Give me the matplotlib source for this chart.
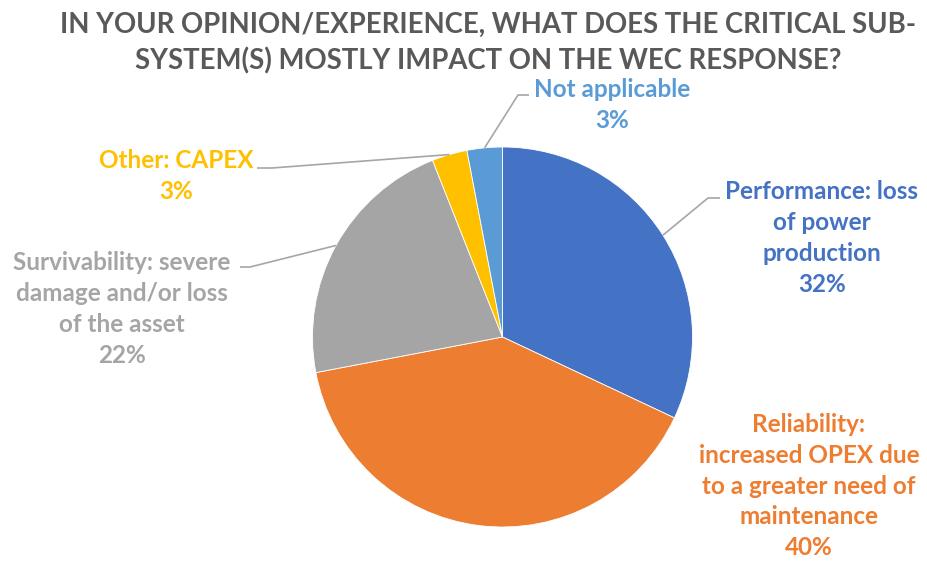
import numpy as np
import matplotlib
matplotlib.use("Agg")
import matplotlib.pyplot as plt

### data
labels = ["Performance: loss\nof power\nproduction",
          "Reliability:\nincreased OPEX due\nto a greater need of\nmaintenance",
          "Survivability: severe\ndamage and/or loss\nof the asset",
          "Other: CAPEX",
          "Not applicable"]
shares = [32, 40, 22, 3, 3]
colors = ["#4472C4", "#ED7D31", "#A5A5A5", "#FFC000", "#5B9BD5"]

title = "IN YOUR OPINION/EXPERIENCE, WHAT DOES THE CRITICAL SUB-\nSYSTEM(S) MOSTLY IMPACT ON THE WEC RESPONSE?"

W, H = 927, 562
fig = plt.figure(figsize=(W / 100, H / 100), dpi=100)
ax = fig.add_axes([0, 0, 1, 1])

### helper: pixel coords from top-left to axes coords
def px(x, y):
    return x, H - y

cx, cy = px(502.5, 337)
R = 190

wedges, _ = ax.pie(shares, colors=colors, startangle=90, counterclock=False,
                   center=(cx, cy), radius=R, frame=True,
                   wedgeprops=dict(edgecolor="white", linewidth=0.6))
ax.set_xlim(0, W)
ax.set_ylim(0, H)
ax.axis("off")

### label positions (text centre) and leader line elbows
lab_pos = [(822, 238), (809, 486), (122, 309), (176, 176), (612, 105)]
elbows = [[(708, 198), (720, 198)],
          None,
          [(250, 267), (240, 267)],
          [(272, 168), (257, 168)],
          [(518, 95), (529, 95)]]
line_col = "#A6A6A6"

for w, lab, val, col, pos, elb in zip(wedges, labels, shares, colors, lab_pos, elbows):
    ang = np.deg2rad((w.theta1 + w.theta2) / 2)
    ex, ey = cx + R * np.cos(ang), cy + R * np.sin(ang)
    ax.text(*px(*pos), "%s\n%d%%" % (lab, val), color=col, fontsize=17.5,
            fontweight="bold", family="Lato", ha="center", va="center",
            linespacing=1.42)
    if elb is not None:
        xs = [ex] + [e[0] for e in elb]
        ys = [ey] + [H - e[1] for e in elb]
        ax.plot(xs, ys, color=line_col, lw=1.2, solid_capstyle="butt")

ax.text(*px(488, 43), title, color="#595959", fontsize=19.8, fontweight="bold",
        family="Lato", ha="center", va="center", linespacing=1.45)

fig.savefig("out.png", dpi=100)
